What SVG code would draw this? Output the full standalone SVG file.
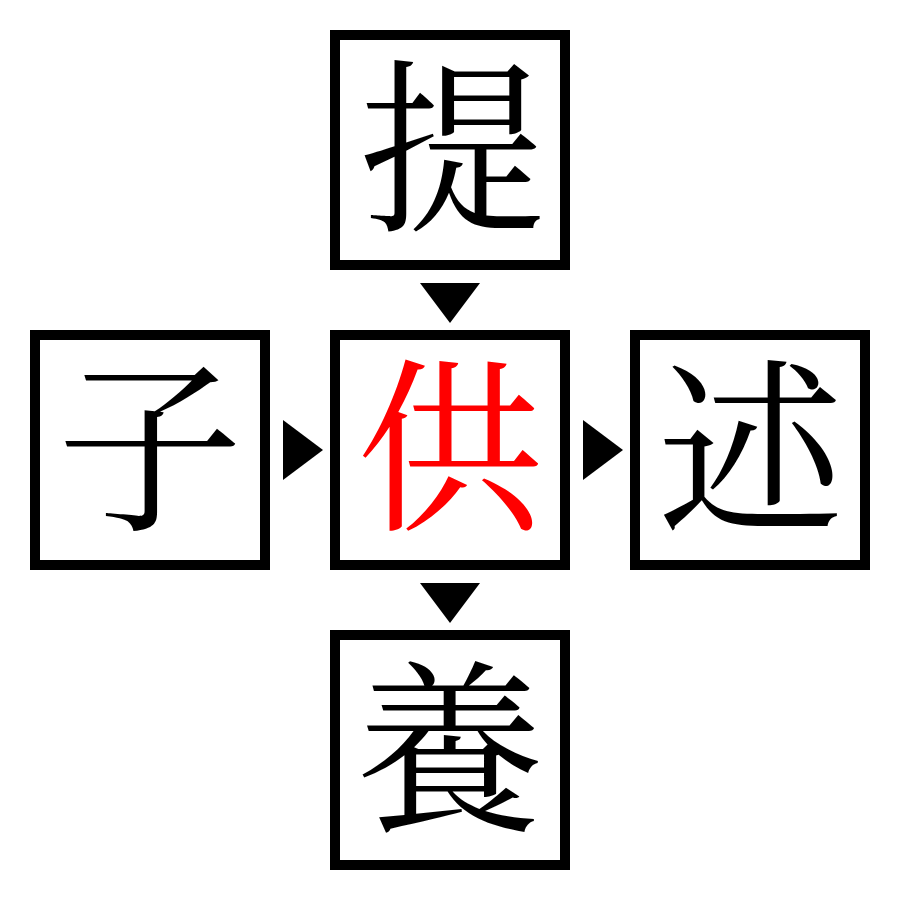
<svg xmlns="http://www.w3.org/2000/svg" width="900" height="900" viewBox="0 0 900 900">
<style>
.box{fill:#fff;stroke:#000;stroke-width:10}
.ch{font-family:"Noto Serif CJK JP","Noto Sans CJK JP",serif;font-size:186px;text-anchor:middle;fill:#000}
.red{fill:#ff0000}
.arr{fill:#000}
</style>
<rect width="900" height="900" fill="#fff"/>
<g id="connectors">
<polygon class="arr" points="420,283 480,283 450,323"/>
<polygon class="arr" points="283,420 283,480 323,450"/>
<polygon class="arr" points="583,420 583,480 623,450"/>
<polygon class="arr" points="420,583 480,583 450,623"/>
</g>
<g id="top"><rect class="box" x="335" y="35" width="230" height="230"/><text class="ch" x="452" y="217">提</text></g>
<g id="left"><rect class="box" x="35" y="335" width="230" height="230"/><text class="ch" x="150" y="516">子</text></g>
<g id="center"><rect class="box" x="335" y="335" width="230" height="230"/><text class="ch red" x="450" y="516">供</text></g>
<g id="right"><rect class="box" x="635" y="335" width="230" height="230"/><text class="ch" x="750" y="516">述</text></g>
<g id="bottom"><rect class="box" x="335" y="635" width="230" height="230"/><text class="ch" x="450" y="818">養</text></g>
</svg>
